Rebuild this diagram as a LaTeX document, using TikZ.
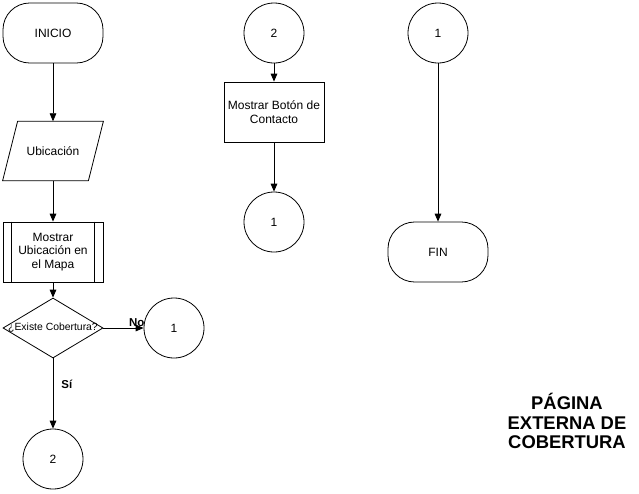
\documentclass[tikz,border=0pt]{standalone}
\usepackage{fontspec}
\setmainfont{Liberation Sans}
\usetikzlibrary{arrows.meta,shapes.geometric}
\tikzset{
  term/.style={
    draw, rounded corners=20pt, minimum width=75pt, minimum height=45pt,
    align=center, font=\fontsize{9}{10.3}\selectfont
  },
  proc/.style={
    draw, minimum width=75pt, minimum height=45pt, inner sep=1pt,
    align=center, font=\fontsize{9}{10.3}\selectfont
  },
  datos/.style={
    minimum width=75pt, minimum height=44pt, inner sep=1pt,
    font=\fontsize{9}{10.3}\selectfont
  },
  decis/.style={
    draw, diamond, minimum width=75pt, minimum height=45pt, inner sep=0pt,
    font=\fontsize{7.8}{9}\selectfont
  },
  conec/.style={
    draw, circle, minimum size=45pt, inner sep=0pt,
    font=\fontsize{9}{10.3}\selectfont
  },
  arrow/.style={-{Triangle[length=6pt,width=5pt]}, line width=0.6pt},
  lbl/.style={font=\bfseries\fontsize{8.6}{10}\selectfont, inner sep=1pt},
  titulo/.style={align=center, font=\bfseries\fontsize{13.8}{14.6}\selectfont}
}

\begin{document}
\begin{tikzpicture}[x=0.75pt, y=-0.75pt, line width=0.6pt]
    \useasboundingbox (0,0) rectangle (639,493);

    \node[term] (inicio) at (53,33) {INICIO};
    \node[datos] (ubic) at (53,151) {Ubicación};
    \draw ([xshift=11.25pt]ubic.north west) -- (ubic.north east)
      -- ([xshift=-11.25pt]ubic.south east) -- (ubic.south west) -- cycle;
    \node[proc] (mapa) at (53,252) {Mostrar\\Ubicación en\\el Mapa};
    \draw ([xshift=6.75pt]mapa.north west) -- ([xshift=6.75pt]mapa.south west);
    \draw ([xshift=-6.75pt]mapa.north east) -- ([xshift=-6.75pt]mapa.south east);
    \node[decis] (cober) at (53,328) {\makebox[0pt]{¿Existe Cobertura?}};
    \node[conec] (uno) at (174,328) {1};
    \node[conec] (dos) at (53,459) {2};
    \draw[arrow] (inicio) -- (ubic);
    \draw[arrow] (ubic) -- (mapa);
    \draw[arrow] (mapa) -- (cober);
    \draw[arrow] (cober) -- node[lbl, above, pos=0.83] {No} (uno);
    \draw[arrow] (cober) -- node[lbl, right, pos=0.37, xshift=5pt] {Sí} (dos);

    \node[conec] (dosb) at (274,33) {2};
    \node[proc] (boton) at (274,112) {Mostrar Botón de\\Contacto};
    \node[conec] (unob) at (274,222) {1};
    \draw[arrow] (dosb) -- (boton);
    \draw[arrow] (boton) -- (unob);

    \node[conec] (unoc) at (438,33) {1};
    \node[term] (fin) at (438,252) {FIN};
    \draw[arrow] (unoc) -- (fin);

    \node[titulo] (pagina) at (567,421) {PÁGINA\\EXTERNA DE\\COBERTURA};
  \end{tikzpicture}
\end{document}
